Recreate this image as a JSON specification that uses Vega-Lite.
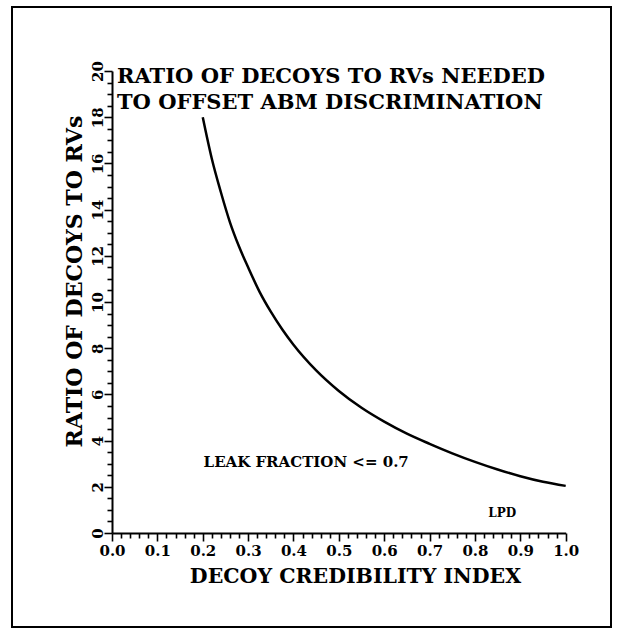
{
  "$schema": "https://vega.github.io/schema/vega-lite/v6.json",
  "width": 599,
  "height": 620,
  "autosize": {"type": "none"},
  "padding": {"left": 12, "top": 7, "right": 7, "bottom": 3},
  "background": "white",
  "config": {"view": {"stroke": "black", "strokeWidth": 2}, "font": "DejaVu Serif"},
  "encoding": {
    "x": {
      "field": "credibility", "type": "quantitative",
      "scale": {"domain": [0, 1], "range": [100, 553.7], "nice": false, "zero": false},
      "axis": {
        "orient": "bottom", "offset": -94,
        "values": [0,0.02,0.04,0.06,0.08,0.1,0.12,0.14,0.16,0.18,0.2,0.22,0.24,0.26,0.28,0.3,0.32,0.34,0.36,0.38,0.4,0.42,0.44,0.46,0.48,0.5,0.52,0.54,0.56,0.58,0.6,0.62,0.64,0.66,0.68,0.7,0.72,0.74,0.76,0.78,0.8,0.82,0.84,0.86,0.88,0.9,0.92,0.94,0.96,0.98,1],
        "labelExpr": "abs(round(datum.value*10) - datum.value*10) < 0.001 ? format(datum.value, '.1f') : ''",
        "tickSize": {"condition": {"test": "abs(round(datum.value*10) - datum.value*10) < 0.001", "value": 8}, "value": 5},
        "tickColor": "black", "tickWidth": 1.6,
        "domainColor": "black", "domainWidth": 2,
        "grid": false,
        "labelFont": "DejaVu Serif", "labelFontWeight": "bold", "labelFontSize": 15, "labelColor": "black",
        "labelBaseline": "middle", "labelPadding": 9,
        "labelOverlap": false, "labelFlush": false, "labelBound": false,
        "title": "DECOY CREDIBILITY INDEX",
        "titleFont": "DejaVu Serif", "titleFontWeight": "bold", "titleFontSize": 20.5, "titleColor": "black",
        "titleX": 343, "titleY": 43, "titleAlign": "center", "titleBaseline": "middle", "titleAnchor": null
      }
    },
    "y": {
      "field": "ratio", "type": "quantitative",
      "scale": {"domain": [0, 20], "range": [526, 64], "nice": false, "zero": false},
      "axis": {
        "orient": "left", "offset": -100,
        "values": [0,0.5,1,1.5,2,2.5,3,3.5,4,4.5,5,5.5,6,6.5,7,7.5,8,8.5,9,9.5,10,10.5,11,11.5,12,12.5,13,13.5,14,14.5,15,15.5,16,16.5,17,17.5,18,18.5,19,19.5,20],
        "labelExpr": "datum.value % 2 === 0 ? format(datum.value, 'd') : ''",
        "tickSize": {"condition": {"test": "datum.value % 2 === 0", "value": 8}, "value": 5},
        "tickColor": "black", "tickWidth": 1.6,
        "domainColor": "black", "domainWidth": 2,
        "grid": false,
        "labelFont": "DejaVu Serif", "labelFontWeight": "bold", "labelFontSize": 15, "labelColor": "black",
        "labelAngle": -90, "labelAlign": "center", "labelBaseline": "middle", "labelPadding": 7,
        "labelOverlap": false, "labelFlush": false, "labelBound": false,
        "title": "RATIO OF DECOYS TO RVs",
        "titleFont": "DejaVu Serif", "titleFontWeight": "bold", "titleFontSize": 22, "titleColor": "black",
        "titleX": -38, "titleY": 274, "titleAngle": -90, "titleAlign": "center", "titleBaseline": "middle", "titleAnchor": null
      }
    }
  },
  "layer": [
    {
      "data": {"values": [
        {"credibility": 0.200, "ratio": 18.0},
        {"credibility": 0.220, "ratio": 16.2},
        {"credibility": 0.240, "ratio": 14.75},
        {"credibility": 0.260, "ratio": 13.45},
        {"credibility": 0.280, "ratio": 12.4},
        {"credibility": 0.300, "ratio": 11.5},
        {"credibility": 0.325, "ratio": 10.45},
        {"credibility": 0.350, "ratio": 9.58},
        {"credibility": 0.375, "ratio": 8.82},
        {"credibility": 0.400, "ratio": 8.15},
        {"credibility": 0.450, "ratio": 7.04},
        {"credibility": 0.500, "ratio": 6.15},
        {"credibility": 0.550, "ratio": 5.42},
        {"credibility": 0.600, "ratio": 4.82},
        {"credibility": 0.650, "ratio": 4.3},
        {"credibility": 0.700, "ratio": 3.86},
        {"credibility": 0.750, "ratio": 3.45},
        {"credibility": 0.800, "ratio": 3.08},
        {"credibility": 0.850, "ratio": 2.75},
        {"credibility": 0.900, "ratio": 2.46},
        {"credibility": 0.950, "ratio": 2.22},
        {"credibility": 1.000, "ratio": 2.04}
      ]},
      "mark": {"type": "line", "color": "black", "strokeWidth": 2.5, "interpolate": "monotone"}
    },
    {
      "data": {"values": [
        {"credibility": 0.011, "ratio": 19.72, "note": "RATIO OF DECOYS TO RVs NEEDED"},
        {"credibility": 0.011, "ratio": 18.6, "note": "TO OFFSET ABM DISCRIMINATION"}
      ]},
      "mark": {"type": "text", "align": "left", "baseline": "middle", "font": "DejaVu Serif", "fontWeight": "bold", "fontSize": 21, "color": "black"},
      "encoding": {"text": {"field": "note"}}
    },
    {
      "data": {"values": [
        {"credibility": 0.428, "ratio": 3.08, "note": "LEAK FRACTION <= 0.7"}
      ]},
      "mark": {"type": "text", "align": "center", "baseline": "middle", "font": "DejaVu Serif", "fontWeight": "bold", "fontSize": 15, "color": "black"},
      "encoding": {"text": {"field": "note"}}
    },
    {
      "data": {"values": [
        {"credibility": 0.86, "ratio": 0.87, "note": "LPD"}
      ]},
      "mark": {"type": "text", "align": "center", "baseline": "middle", "font": "DejaVu Serif", "fontWeight": "bold", "fontSize": 12, "color": "black"},
      "encoding": {"text": {"field": "note"}}
    }
  ]
}
